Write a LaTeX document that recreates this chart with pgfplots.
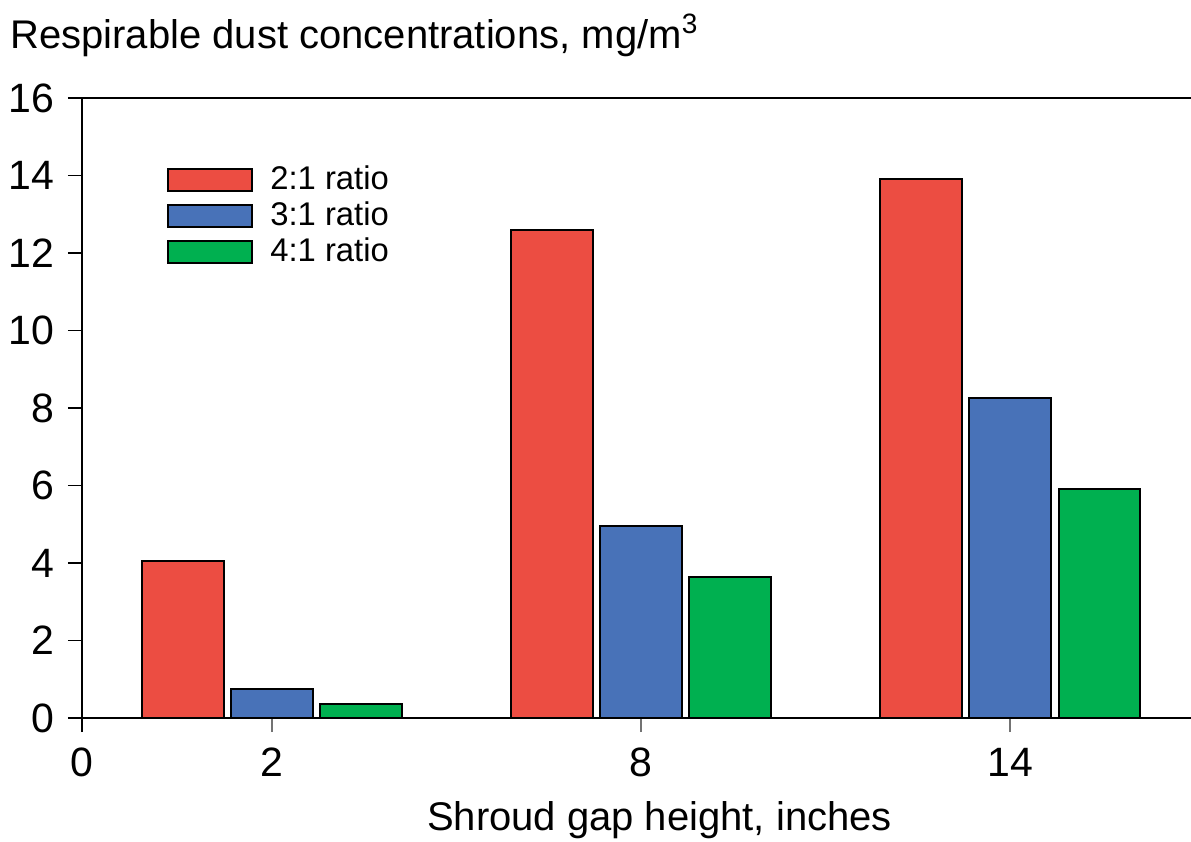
\documentclass[border=0pt]{standalone}
\usepackage{fontspec}
\setmainfont{Liberation Sans}
\usepackage{pgfplots}
\pgfplotsset{compat=1.18}

\definecolor{barred}{RGB}{236,77,66}
\definecolor{barblue}{RGB}{72,114,184}
\definecolor{bargreen}{RGB}{0,176,80}

\begin{document}
\begin{tikzpicture}
\useasboundingbox (-41pt,-62pt) rectangle (554.5pt,359pt);
\begin{axis}[
    at={(0,0)}, anchor=south west,
    scale only axis,
    clip=false,
    width=554.5pt, height=310pt,
    xmin=-0.515, xmax=2.49,
    ymin=0, ymax=16,
    axis x line=box,
    axis y line=left,
    y axis line style={-},
    axis line style={line width=0.9pt},
    xtick pos=bottom,
    tick align=outside,
    major tick length=7pt,
    xtick={0,1,2},
    xticklabels={2,8,14},
    extra x ticks={-0.515},
    extra x tick labels={0},
    extra x tick style={x tick style={black, line width=0.9pt}},
    x tick style={black!55, line width=0.9pt},
    y tick style={black, line width=0.9pt},
    ytick={0,2,...,16},
    ticklabel style={font=\fontsize{20.5}{24}\selectfont},
    xticklabel style={yshift=-4.5pt},
    yticklabel style={xshift=-3.5pt},
    /pgf/number format/assume math mode=true,
    xlabel={Shroud gap height, inches},
    xlabel style={at={(rel axis cs:0.5,0)}, anchor=base, yshift=-56pt, xshift=11.5pt,
        font=\fontsize{20}{24}\selectfont},
    ybar,
    bar width=0.222,
    legend style={draw=none, fill=none, at={(rel axis cs:0.0766,0.8952)}, anchor=north west,
        inner sep=0pt, row sep=1pt, font=\fontsize{16.4}{19}\selectfont,
        nodes={inner sep=1pt, text height=12pt, text depth=3pt},
        /tikz/every odd column/.append style={column sep=7.5pt}},
    legend cell align=left,
    legend image code/.code={\draw[#1, line width=1pt] (0pt,-5.5pt) rectangle (42pt,5.5pt);},
]
\addplot[fill=barred, draw=black, line width=1pt, bar shift=-0.242]
    coordinates {(0,4.05) (1,12.6) (2,13.9)};
\addplot[fill=barblue, draw=black, line width=1pt, bar shift=0]
    coordinates {(0,0.75) (1,4.95) (2,8.26)};
\addplot[fill=bargreen, draw=black, line width=1pt, bar shift=0.242]
    coordinates {(0,0.36) (1,3.64) (2,5.91)};
\legend{2:1 ratio, 3:1 ratio, 4:1 ratio}
\node[anchor=base west, inner sep=0pt, font=\fontsize{20}{24}\selectfont]
    at (rel axis cs:0,1) [xshift=-36pt, yshift=24.5pt]
    {Respirable dust concentrations, mg/m\textsuperscript{3}};
\end{axis}
\end{tikzpicture}
\end{document}
